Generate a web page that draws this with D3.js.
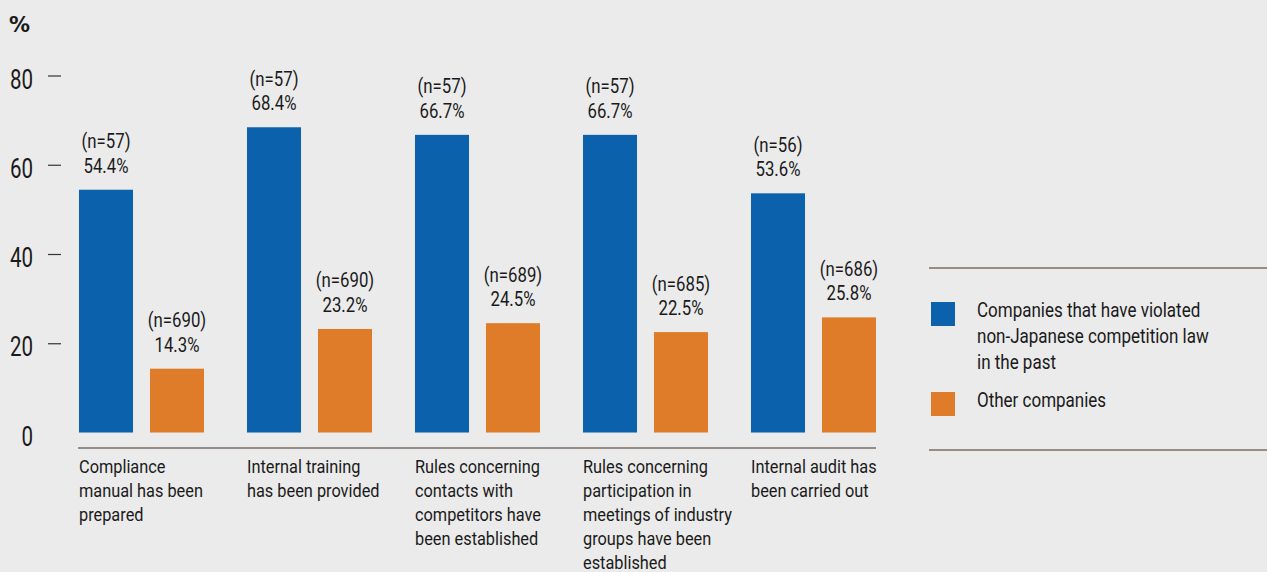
<!DOCTYPE html>
<html>
<head>
<meta charset="utf-8">
<script src="https://cdn.jsdelivr.net/npm/d3@7"></script>
<style>
  html, body { margin: 0; padding: 0; background: #ebebeb; }
  svg { display: block; }
  text { font-family: Roboto, "Liberation Sans", sans-serif; fill: #1a1a1a; }
</style>
</head>
<body>
<svg id="chart" width="1267" height="572"></svg>
<script>
const categories = [
  ["Compliance", "manual has been", "prepared"],
  ["Internal training", "has been provided"],
  ["Rules concerning", "contacts with", "competitors have", "been established"],
  ["Rules concerning", "participation in", "meetings of industry", "groups have been", "established"],
  ["Internal audit has", "been carried out"]
];
const seriesNames = ["Companies that have violated non-Japanese competition law in the past", "Other companies"];
const legendLines = [
  ["Companies that have violated", "non-Japanese competition law", "in the past"],
  ["Other companies"]
];
const violatedValues = [54.4, 68.4, 66.7, 66.7, 53.6];
const violatedN = [57, 57, 57, 57, 56];
const otherValues = [14.3, 23.2, 24.5, 22.5, 25.8];
const otherN = [690, 690, 689, 685, 686];
const yTicks = [0, 20, 40, 60, 80];
const colors = ["#0b61ab", "#df7c29"];

const svg = d3.select("#chart");
svg.append("rect").attr("width", 1267).attr("height", 572).attr("fill", "#ebebeb");

const catIdx = categories.map((d, i) => i);
const x0 = d3.scaleBand().domain(catIdx).range([79, 876]).paddingInner(0.256).paddingOuter(0);
const x1 = d3.scaleBand().domain([0, 1]).range([0, x0.bandwidth()]).paddingInner(0.239).paddingOuter(0);
const y = d3.scaleLinear().domain([0, 80]).range([432.5, 75.5]);

// y axis
const yAxis = d3.axisLeft(y).tickValues(yTicks).tickSize(0).tickPadding(0);
const yG = svg.append("g").attr("transform", "translate(33,0)").call(yAxis);
yG.select(".domain").remove();
yG.selectAll("text")
  .attr("x", 0).attr("dy", "0.47em")
  .attr("transform", "scale(0.76,1)")
  .style("font-size", "27px")
  .style("font-family", "Roboto, sans-serif")
  .attr("fill", "#1a1a1a");
yG.selectAll(".tick").filter(d => d !== 0).append("line")
  .attr("x1", 15).attr("x2", 28).attr("y1", 0).attr("y2", 0)
  .attr("stroke", "#333").attr("stroke-width", 1.2);

svg.append("text").attr("x", 9).attr("y", 32).text("%")
  .style("font-size", "21px").style("font-weight", "bold")
  .style("font-family", "'DejaVu Sans', sans-serif");

// bars
const data = catIdx.map(i => [
  { s: 0, v: violatedValues[i], n: violatedN[i] },
  { s: 1, v: otherValues[i], n: otherN[i] }
]);

const groups = svg.append("g").selectAll("g").data(data).join("g")
  .attr("transform", (d, i) => `translate(${x0(i)},0)`);

groups.selectAll("rect").data(d => d).join("rect")
  .attr("x", d => x1(d.s))
  .attr("width", x1.bandwidth())
  .attr("y", d => y(d.v))
  .attr("height", d => y(0) - y(d.v))
  .attr("fill", d => colors[d.s]);

groups.selectAll("text.n").data(d => d).join("text").attr("class", "n")
  .attr("transform", d => `translate(${x1(d.s) + x1.bandwidth() / 2},${y(d.v) - 41.5}) scale(0.84,1)`)
  .attr("text-anchor", "middle")
  .style("font-size", "20px")
  .text(d => `(n=${d.n})`);

groups.selectAll("text.v").data(d => d).join("text").attr("class", "v")
  .attr("transform", d => `translate(${x1(d.s) + x1.bandwidth() / 2},${y(d.v) - 17}) scale(0.84,1)`)
  .attr("text-anchor", "middle")
  .style("font-size", "20px")
  .text(d => d.v.toFixed(1) + "%");

// baseline
svg.append("line").attr("x1", x0.range()[0] - 1).attr("x2", x0.range()[1])
  .attr("y1", 448).attr("y2", 448).attr("stroke", "#7a6e68").attr("stroke-width", 1.3);

// category labels
const catG = svg.append("g").selectAll("text").data(categories).join("text")
  .attr("transform", (d, i) => `translate(${x0(i)},473) scale(0.86,1)`)
  .style("font-size", "19px");
catG.selectAll("tspan").data(d => d).join("tspan")
  .attr("x", 0)
  .attr("dy", (d, i) => i === 0 ? 0 : 24)
  .text(d => d);

// legend
const lg = svg.append("g");
lg.append("line").attr("x1", 929).attr("x2", 1267).attr("y1", 268).attr("y2", 268).attr("stroke", "#7a6e68").attr("stroke-width", 1.3);
lg.append("line").attr("x1", 929).attr("x2", 1267).attr("y1", 450).attr("y2", 450).attr("stroke", "#7a6e68").attr("stroke-width", 1.3);
const legendY = [302, 392];
seriesNames.forEach((name, i) => {
  lg.append("rect").attr("x", 931).attr("y", legendY[i]).attr("width", 24).attr("height", 24).attr("fill", colors[i]);
  const t = lg.append("text")
    .attr("transform", `translate(977,${legendY[i] + 14.5}) scale(0.85,1)`)
    .style("font-size", "20px");
  t.selectAll("tspan").data(legendLines[i]).join("tspan")
    .attr("x", 0).attr("dy", (d, j) => j === 0 ? 0 : 26.5).text(d => d);
});
</script>
</body>
</html>
